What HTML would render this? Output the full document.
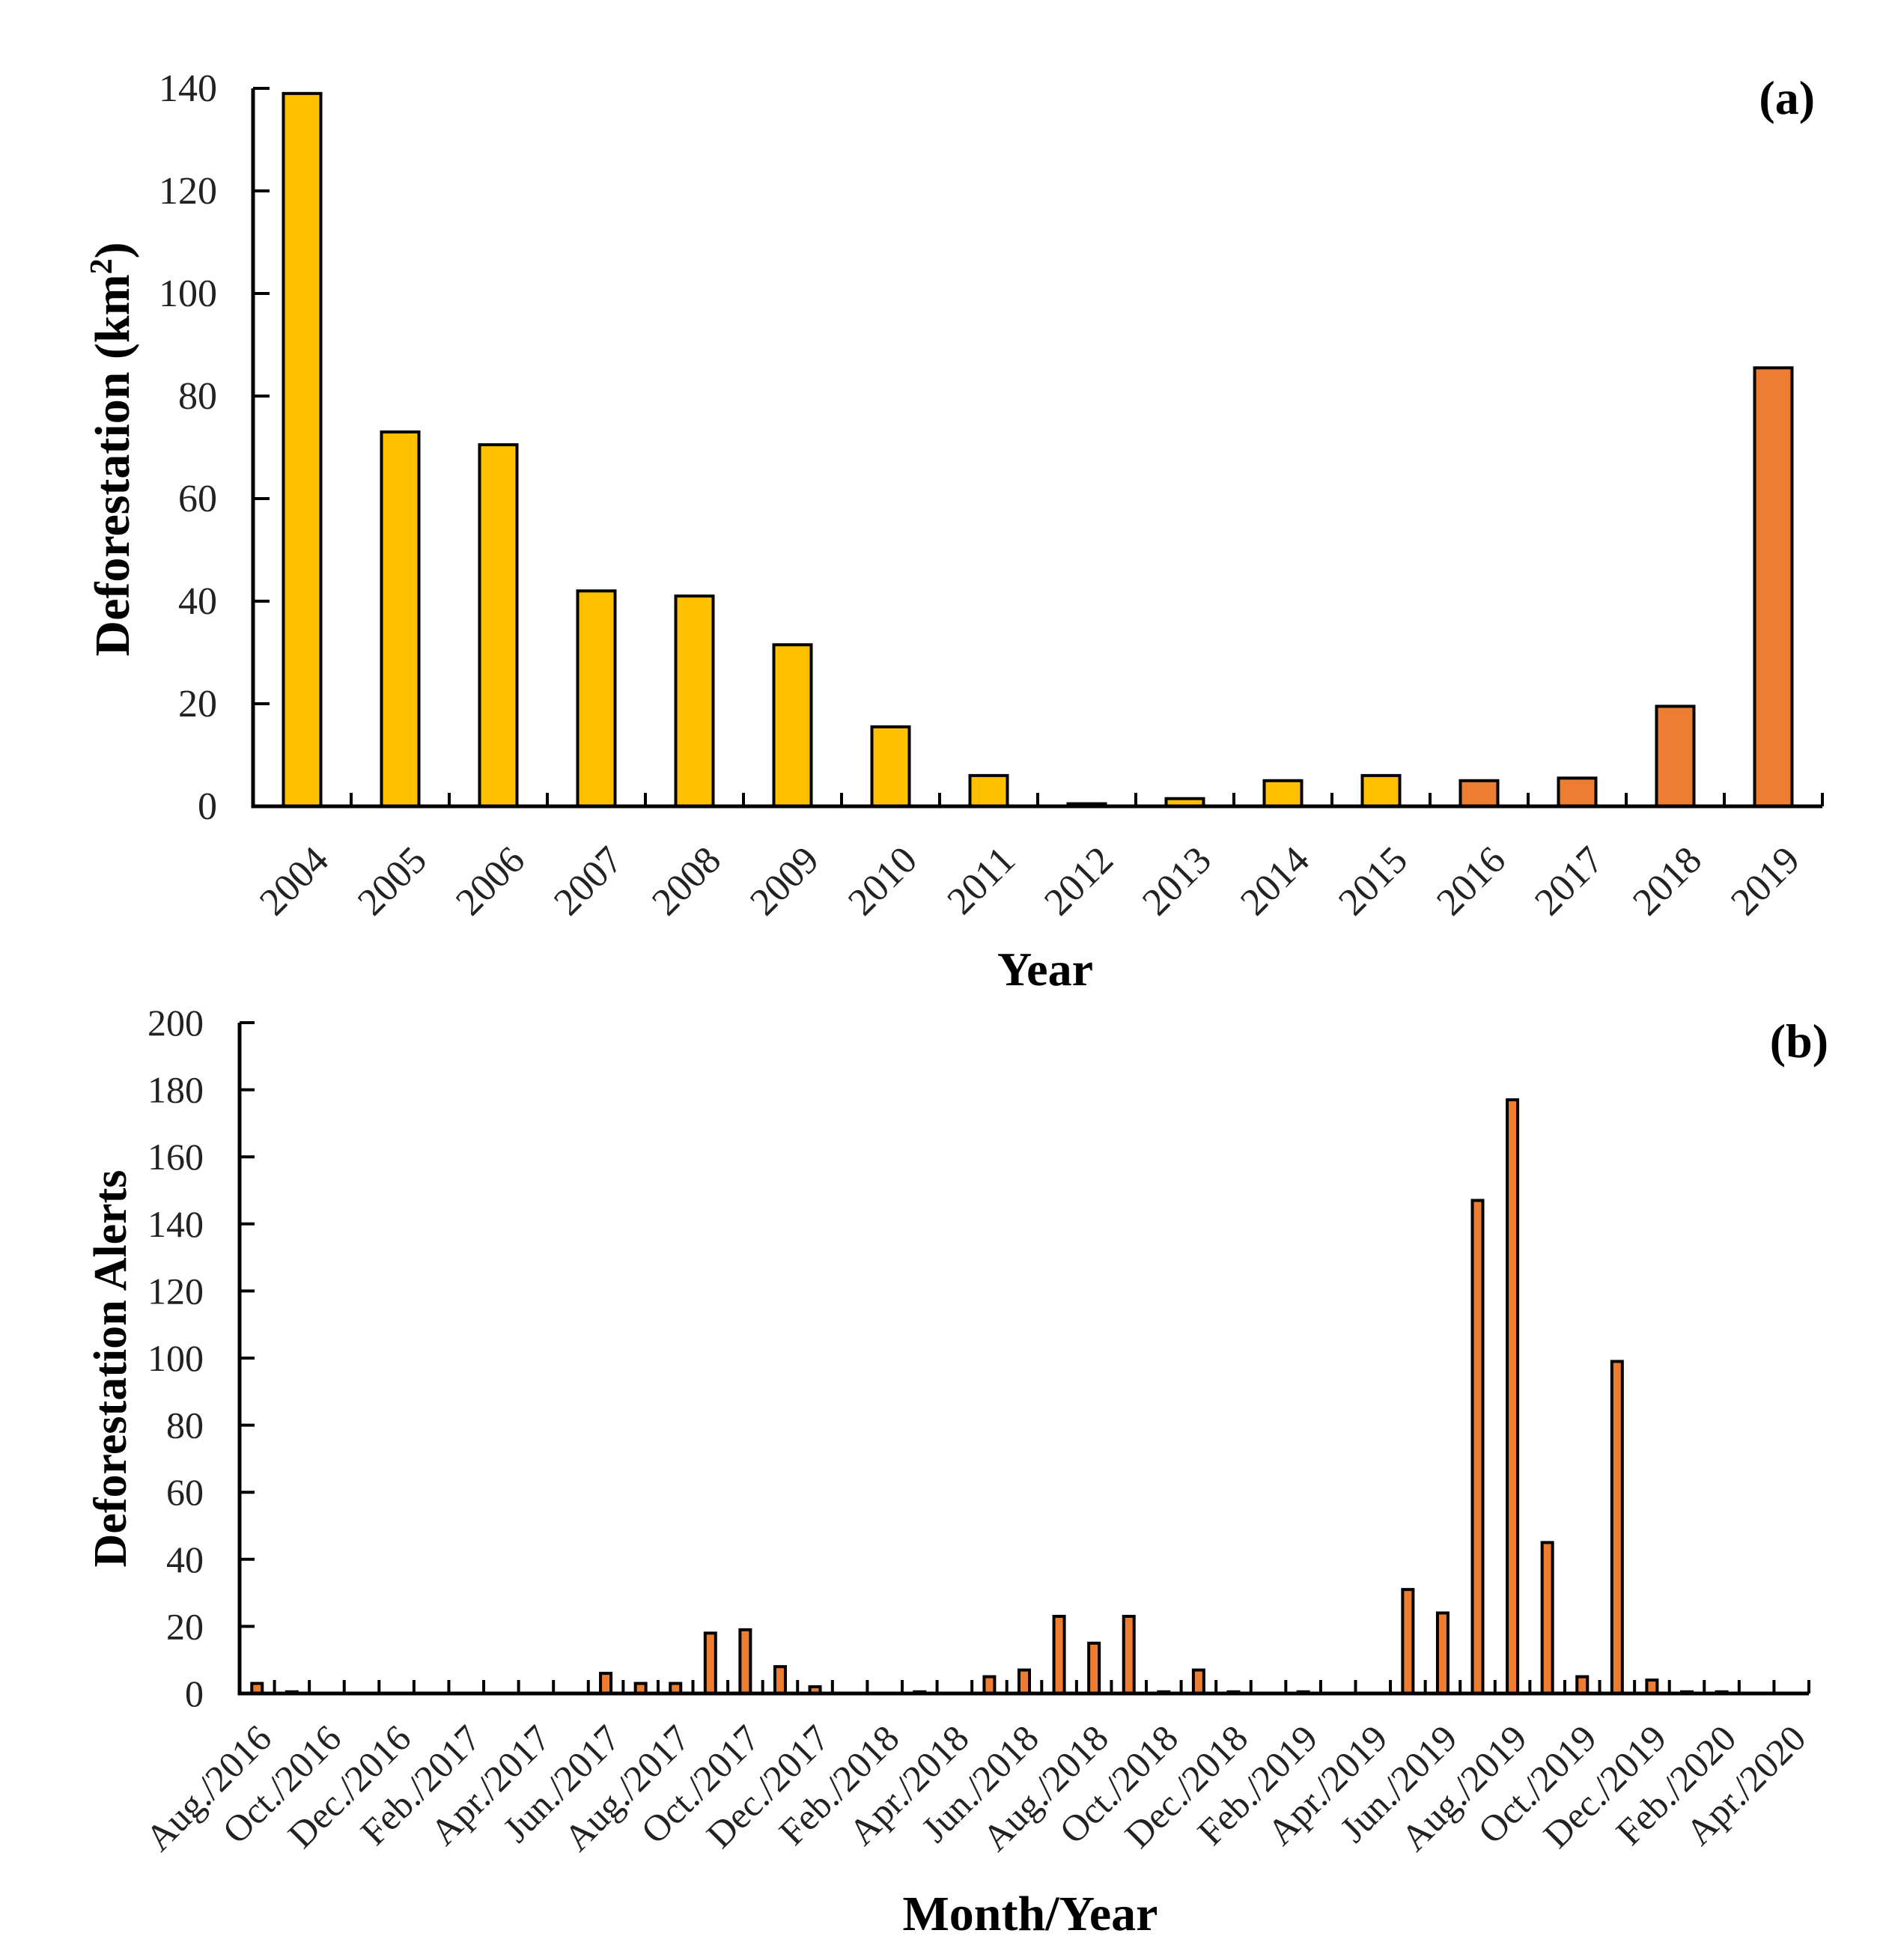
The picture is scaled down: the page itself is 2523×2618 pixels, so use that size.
<!DOCTYPE html>
<html><head><meta charset="utf-8"><style>
html,body{margin:0;padding:0;background:#fff}
svg{display:block;font-family:"Liberation Serif",serif}
</style></head><body>
<svg id="fig" width="2523" height="2618" viewBox="0 0 2523 2618" xmlns="http://www.w3.org/2000/svg">
<g id="ca"></g>
<g id="cb"></g>
</svg>
<script>
const yearsA = ["2004","2005","2006","2007","2008","2009","2010","2011","2012","2013","2014","2015","2016","2017","2018","2019"];
const valuesA = [139,73,70.5,42,41,31.5,15.5,6,0.5,1.5,5,6,5,5.5,19.5,85.5];
const ticksA = [0,20,40,60,80,100,120,140];
const monthsB = ["Aug./2016","Sep./2016","Oct./2016","Nov./2016","Dec./2016","Jan./2017","Feb./2017","Mar./2017","Apr./2017","May/2017","Jun./2017","Jul./2017","Aug./2017","Sep./2017","Oct./2017","Nov./2017","Dec./2017","Jan./2018","Feb./2018","Mar./2018","Apr./2018","May/2018","Jun./2018","Jul./2018","Aug./2018","Sep./2018","Oct./2018","Nov./2018","Dec./2018","Jan./2019","Feb./2019","Mar./2019","Apr./2019","May/2019","Jun./2019","Jul./2019","Aug./2019","Sep./2019","Oct./2019","Nov./2019","Dec./2019","Jan./2020","Feb./2020","Mar./2020","Apr./2020"];
const valuesB = [3,0.5,0,0,0,0,0,0,0,0,6,3,3,18,19,8,2,0,0,0.5,0,5,7,23,15,23,0.5,7,0.5,0,0.5,0,0,31,24,147,177,45,5,99,4,0.5,0.5,0,0];
const ticksB = [0,20,40,60,80,100,120,140,160,180,200];

const NS="http://www.w3.org/2000/svg";
function mk(parent,tag,attrs,text){const e=document.createElementNS(NS,tag);for(const k in attrs)e.setAttribute(k,attrs[k]);if(text!==undefined)e.textContent=text;parent.appendChild(e);return e;}

// Chart A
(function(){
const g=document.getElementById('ca');
const x0=338,x1=2434,y0=1077,yTop=118,maxV=140;
const cw=(x1-x0)/yearsA.length;
const ys=v=>y0-(v/maxV)*(y0-yTop);
const xs=i=>x0+cw*(i+0.5);
yearsA.forEach((yr,i)=>{
  const v=valuesA[i];
  const r=mk(g,'rect',{x:xs(i)-25,y:ys(v),width:50,height:y0-ys(v),fill:i>=12?'#ED7D31':'#FFC000',stroke:'#000','stroke-width':4});
  
  
  const t=mk(g,'text',{x:0,y:0,'font-size':52,'text-anchor':'end',fill:'#222',transform:`translate(${xs(i)+38},${1152}) rotate(-45)`},yr);
  
  
  if(i>0){mk(g,'line',{x1:x0+cw*i,x2:x0+cw*i,y1:y0,y2:y0-18,stroke:'#000','stroke-width':4});}
});
mk(g,'line',{x1:x1,x2:x1,y1:y0,y2:y0-18,stroke:'#000','stroke-width':4});
ticksA.forEach(v=>{
  mk(g,'line',{x1:x0,x2:x0+22,y1:ys(v),y2:ys(v),stroke:'#000','stroke-width':4});
  const t=mk(g,'text',{x:x0-48,y:ys(v)+17,'font-size':52,'text-anchor':'end',fill:'#222'},String(v));
  
  
});
const ax=mk(g,'path',{d:`M${x0},${yTop} V${y0} H${x1}`,fill:'none',stroke:'#000','stroke-width':5});


const yt=mk(g,'text',{x:0,y:0,'font-size':66,'font-weight':'bold','text-anchor':'middle',transform:'translate(172,600) rotate(-90)'});
yt.innerHTML='Deforestation (km<tspan baseline-shift="super" font-size="42">2</tspan>)';


const xt=mk(g,'text',{x:1396,y:1316,'font-size':64,'font-weight':'bold','text-anchor':'middle'},'Year');


const pl=mk(g,'text',{x:2424,y:152,'font-size':64,'font-weight':'bold','text-anchor':'end'},'(a)');


})();

// Chart B
(function(){
const g=document.getElementById('cb');
const x0=320,x1=2416,y0=2262,yTop=1366,maxV=200;
const cw=(x1-x0)/monthsB.length;
const ys=v=>y0-(v/maxV)*(y0-yTop);
const xs=i=>x0+cw*(i+0.5);
monthsB.forEach((m,i)=>{
  const v=valuesB[i];
  if(v>0){
    const r=mk(g,'rect',{x:xs(i)-7,y:ys(v),width:14,height:y0-ys(v),fill:'#ED7D31',stroke:'#000','stroke-width':4});
    
    
  }
  if(i%2===0){
    const t=mk(g,'text',{x:0,y:0,'font-size':50,'text-anchor':'end',fill:'#222',transform:`translate(${xs(i)+22},${2325}) rotate(-45)`},m);
    
    
  }
  mk(g,'line',{x1:x0+cw*(i+1),x2:x0+cw*(i+1),y1:y0,y2:y0-18,stroke:'#000','stroke-width':4});
});
ticksB.forEach(v=>{
  mk(g,'line',{x1:x0,x2:x0+20,y1:ys(v),y2:ys(v),stroke:'#000','stroke-width':4});
  const t=mk(g,'text',{x:x0-48,y:ys(v)+17,'font-size':50,'text-anchor':'end',fill:'#222'},String(v));
  
  
});
const ax=mk(g,'path',{d:`M${x0},${yTop} V${y0} H${x1}`,fill:'none',stroke:'#000','stroke-width':5});


const yt=mk(g,'text',{x:0,y:0,'font-size':62,'font-weight':'bold','text-anchor':'middle',transform:'translate(168,1828) rotate(-90)'},'Deforestation Alerts');


const xt=mk(g,'text',{x:1376,y:2578,'font-size':66,'font-weight':'bold','text-anchor':'middle'},'Month/Year');


const pl=mk(g,'text',{x:2442,y:1412,'font-size':64,'font-weight':'bold','text-anchor':'end'},'(b)');


})();
</script>
</body></html>
